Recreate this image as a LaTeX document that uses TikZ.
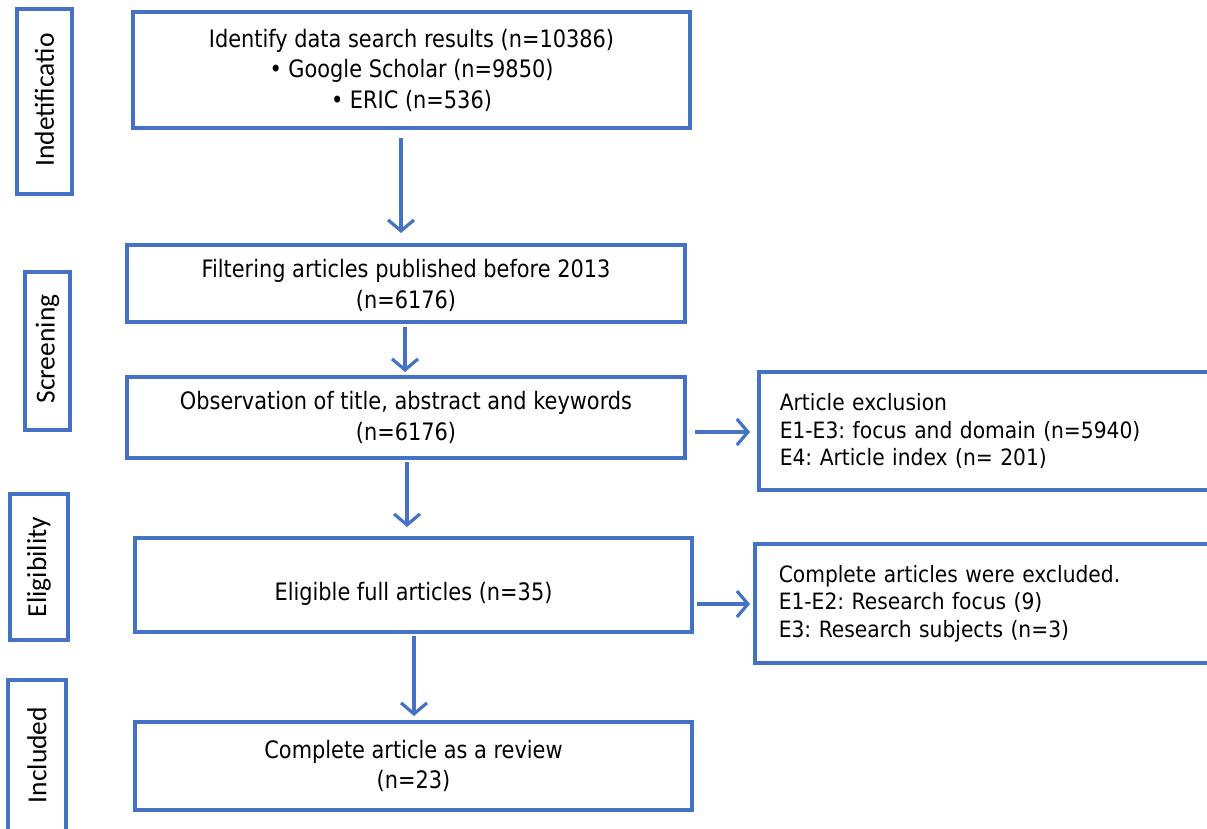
\documentclass[tikz,border=0pt]{standalone}
\usepackage{fontspec}
\setmainfont{DejaVu Sans}
\newfontfamily\mainbox[FakeStretch=0.87]{DejaVu Sans}
\newfontfamily\sidebox[FakeStretch=0.9]{DejaVu Sans}
\newfontfamily\stagefont{Carlito}
\usetikzlibrary{arrows.meta}
\definecolor{pblue}{HTML}{4472C4}
\tikzset{
  mainnode/.style={draw=pblue, line width=3.5pt, align=center, inner sep=0pt,
    font=\mainbox\fontsize{24}{30.5}\selectfont},
  exnode/.style={draw=pblue, line width=3.5pt, align=left, inner ysep=0pt, anchor=west,
    font=\sidebox\fontsize{22.5}{27.5}\selectfont},
  stagenode/.style={draw=pblue, line width=3.5pt, inner sep=0pt},
  stagetext/.style={rotate=90, font=\stagefont\fontsize{27.5}{30}\selectfont, inner sep=0pt},
  flow/.style={draw=pblue, line width=3.2pt, -{Straight Barb[length=11pt,width=26pt,line width=3.2pt]}}
}
\begin{document}
\frenchspacing
\begin{tikzpicture}[x=1pt,y=-1pt]
\useasboundingbox (0,0) rectangle (1207,829);
\clip (0,0) rectangle (1207,829);
\fill[white] (0,0) rectangle (1207,829);
% stage boxes
\node[stagenode, minimum width=55pt, minimum height=185pt] (s1) at (44.5,101.5) {};
\node[stagetext] (t1) at (44.5,100) {Indetificatio};
\node[stagenode, minimum width=45pt, minimum height=158pt] (s2) at (47.5,351) {};
\node[stagetext] (t2) at (47.5,349) {Screening};
\node[stagenode, minimum width=58pt, minimum height=146pt] (s3) at (39,567) {};
\node[stagetext] (t3) at (39,567) {Eligibility};
\node[stagenode, minimum width=58pt, minimum height=180pt] (s4) at (37,770) {};
\node[stagetext] (t4) at (37,755) {Included};
% main boxes
\node[mainnode, minimum width=557pt, minimum height=116pt] (b1) at (411.5,70)
  {Identify data search results (n=10386)\\ \textbullet\ Google Scholar (n=9850)\\ \textbullet\ ERIC (n=536)};
\node[mainnode, minimum width=558pt, minimum height=77pt] (b2) at (406,283.5)
  {\raisebox{-2pt}[\height][\depth]{Filtering articles published before 2013}\\ \raisebox{-2pt}[\height][\depth]{(n=6176)}};
\node[mainnode, minimum width=558pt, minimum height=81pt] (b3) at (406,417.5)
  {Observation of title, abstract and keywords\\ (n=6176)};
\node[mainnode, minimum width=557pt, minimum height=94pt] (b4) at (413.5,585)
  {\raisebox{-9pt}[\height][\depth]{Eligible full articles (n=35)}};
\node[mainnode, minimum width=557pt, minimum height=88pt] (b5) at (413.5,766)
  {Complete article as a review\\ (n=23)};
% exclusion boxes
\node[exnode, minimum width=458pt, minimum height=118pt, text width=416pt, inner xsep=21pt] (e1) at (757,431)
  {Article exclusion\\ E1-E3: focus and domain (n=5940)\\ E4: Article index (n= 201)};
\node[exnode, minimum width=462pt, minimum height=119pt, text width=416pt, inner xsep=24pt] (e2) at (753,603.5)
  {Complete articles were excluded.\\ E1-E2: Research focus (9)\\ E3: Research subjects (n=3)};
% connectors
\draw[flow] (401,138) -- (401,233);
\draw[flow] (405,327) -- (405,372);
\draw[flow] (407,462) -- (407,527);
\draw[flow] (414,636) -- (414,716);
\draw[flow] (695,432) -- (750,432);
\draw[flow] (697,604) -- (750,604);
\end{tikzpicture}
\end{document}
